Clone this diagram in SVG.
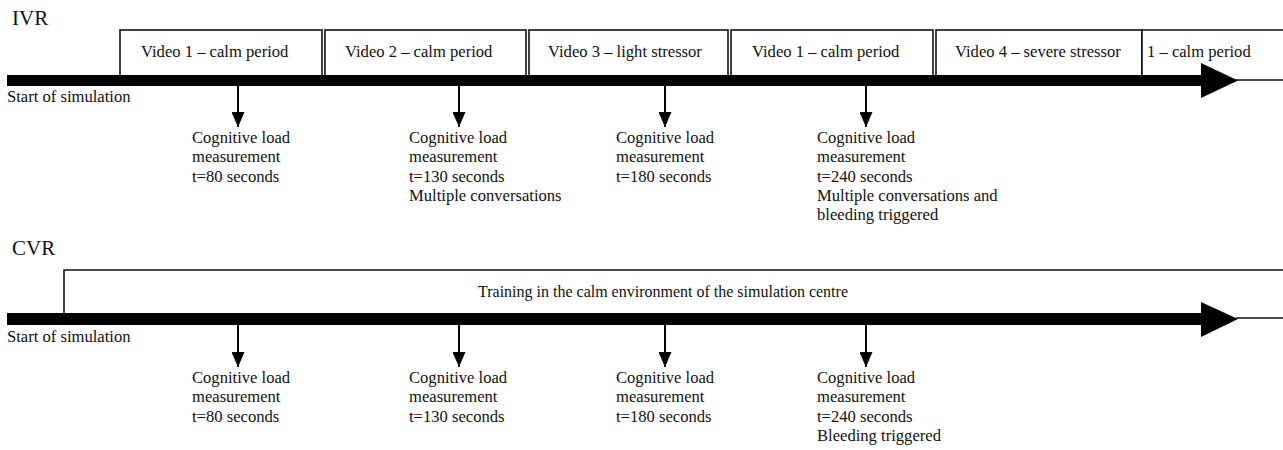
<svg xmlns="http://www.w3.org/2000/svg" width="1283" height="450" viewBox="0 0 1283 450" font-family="'Liberation Serif', 'DejaVu Serif', serif">
<defs>
<style>
text{font-family:"Liberation Serif","DejaVu Serif",serif;fill:#111;}
.t{font-size:16.6px;}
.c{font-size:16px;}
.h{font-size:21px;}
.box{fill:#fff;stroke:#111;stroke-width:1.6;}
.bar{fill:#000;}
.vl{stroke:#000;stroke-width:2;}
</style>
<marker id="ah" viewBox="0 0 15 13" refX="15" refY="6.5" markerWidth="15" markerHeight="13" markerUnits="userSpaceOnUse" orient="auto">
<path d="M0,0 L15,6.5 L0,13 Z" fill="#000"/>
</marker>
</defs>
<rect width="1283" height="450" fill="#fff"/>

<g id="ivr-title"><text class="h" x="12" y="25">IVR</text></g>
<g id="ivr-boxes">
<rect class="box" x="120" y="30" width="202" height="46"/>
<rect class="box" x="325" y="30" width="201" height="46"/>
<rect class="box" x="529" y="30" width="199" height="46"/>
<rect class="box" x="731" y="30" width="202" height="46"/>
<rect class="box" x="936" y="30" width="206" height="46"/>
<path class="box" d="M1284,30 L1142,30 L1142,80 L1284,80"/>
<text class="t" x="141" y="57">Video 1 – calm period</text>
<text class="t" x="345" y="57">Video 2 – calm period</text>
<text class="t" x="548" y="57">Video 3 – light stressor</text>
<text class="t" x="752" y="57">Video 1 – calm period</text>
<text class="t" x="955" y="57">Video 4 – severe stressor</text>
<text class="t" x="1147" y="57">1 – calm period</text>
</g>
<g id="ivr-timeline">
<rect class="bar" x="7" y="75" width="1196" height="11"/>
<path class="bar" d="M1201,63 L1238,80.5 L1201,98 Z"/>
<text class="t" x="7" y="102">Start of simulation</text>
</g>

<g id="cvr-title"><text class="h" x="12" y="255">CVR</text></g>
<g id="cvr-box">
<path class="box" d="M64,314 L64,270 L1284,270"/>
<path class="box" d="M1236,318 L1284,318" fill="none"/>
<text class="c" x="663" y="297" text-anchor="middle">Training in the calm environment of the simulation centre</text>
</g>
<g id="cvr-timeline">
<rect class="bar" x="7" y="313" width="1196" height="12"/>
<path class="bar" d="M1201,302 L1238,319 L1201,337 Z"/>
<text class="t" x="7" y="342">Start of simulation</text>
</g>

<g id="connectors">
<line class="vl" x1="238" y1="86" x2="238" y2="127" marker-end="url(#ah)"/>
<line class="vl" x1="459" y1="86" x2="459" y2="127" marker-end="url(#ah)"/>
<line class="vl" x1="665" y1="86" x2="665" y2="127" marker-end="url(#ah)"/>
<line class="vl" x1="866" y1="86" x2="866" y2="127" marker-end="url(#ah)"/>
<line class="vl" x1="238" y1="325" x2="238" y2="367" marker-end="url(#ah)"/>
<line class="vl" x1="459" y1="325" x2="459" y2="367" marker-end="url(#ah)"/>
<line class="vl" x1="665" y1="325" x2="665" y2="367" marker-end="url(#ah)"/>
<line class="vl" x1="866" y1="325" x2="866" y2="367" marker-end="url(#ah)"/>
</g>

<g id="ivr-m1"><text class="t" x="192" y="143"><tspan x="192">Cognitive load</tspan><tspan x="192" dy="19">measurement</tspan><tspan x="192" dy="20">t=80 seconds</tspan></text></g>
<g id="ivr-m2"><text class="t" x="409" y="143"><tspan x="409">Cognitive load</tspan><tspan x="409" dy="19">measurement</tspan><tspan x="409" dy="20">t=130 seconds</tspan><tspan x="409" dy="19">Multiple conversations</tspan></text></g>
<g id="ivr-m3"><text class="t" x="616" y="143"><tspan x="616">Cognitive load</tspan><tspan x="616" dy="19">measurement</tspan><tspan x="616" dy="20">t=180 seconds</tspan></text></g>
<g id="ivr-m4"><text class="t" x="817" y="143"><tspan x="817">Cognitive load</tspan><tspan x="817" dy="19">measurement</tspan><tspan x="817" dy="20">t=240 seconds</tspan><tspan x="817" dy="19">Multiple conversations and</tspan><tspan x="817" dy="19">bleeding triggered</tspan></text></g>

<g id="cvr-m1"><text class="t" x="192" y="383"><tspan x="192">Cognitive load</tspan><tspan x="192" dy="19">measurement</tspan><tspan x="192" dy="20">t=80 seconds</tspan></text></g>
<g id="cvr-m2"><text class="t" x="409" y="383"><tspan x="409">Cognitive load</tspan><tspan x="409" dy="19">measurement</tspan><tspan x="409" dy="20">t=130 seconds</tspan></text></g>
<g id="cvr-m3"><text class="t" x="616" y="383"><tspan x="616">Cognitive load</tspan><tspan x="616" dy="19">measurement</tspan><tspan x="616" dy="20">t=180 seconds</tspan></text></g>
<g id="cvr-m4"><text class="t" x="817" y="383"><tspan x="817">Cognitive load</tspan><tspan x="817" dy="19">measurement</tspan><tspan x="817" dy="20">t=240 seconds</tspan><tspan x="817" dy="19">Bleeding triggered</tspan></text></g>
</svg>
